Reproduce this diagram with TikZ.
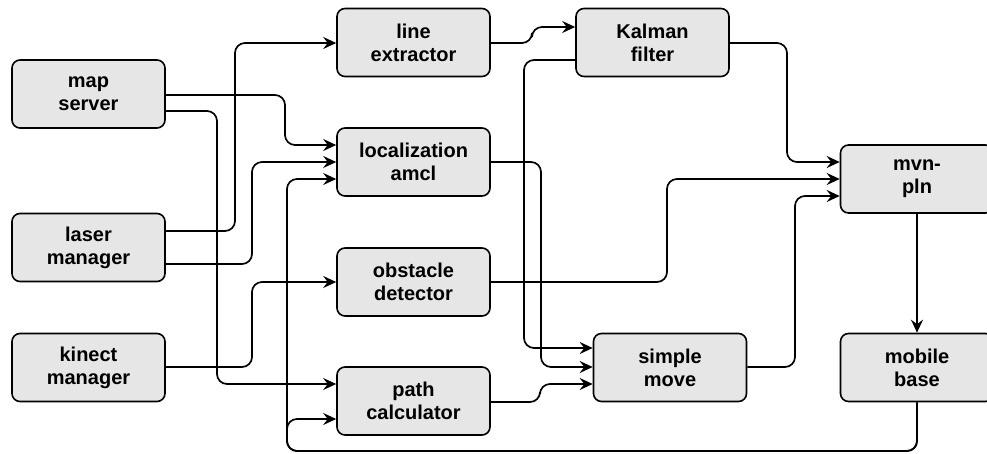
\documentclass[tikz,border=0pt]{standalone}
\usepackage{fontspec}
\setmainfont{Liberation Sans}
\usetikzlibrary{arrows.meta}
\definecolor{boxfill}{HTML}{E6E6E6}
\tikzset{
  block/.style={draw=black, fill=boxfill, line width=1.6pt, rounded corners=8pt,
    minimum width=153pt, minimum height=68pt, inner sep=0pt, align=center,
    font=\fontsize{20pt}{23pt}\selectfont\bfseries},
  conn/.style={draw=black, line width=1.7pt, rounded corners=10pt,
    -{Stealth[length=13pt, width=12pt, inset=4.5pt]}}
}
\begin{document}
\begin{tikzpicture}[x=1pt, y=-1pt]
  \useasboundingbox (0,0) rectangle (987,453);
  \clip (0,0) rectangle (987,453);

  % components
  \node[block] (map)    at (88.5,94)   {map\\server};
  \node[block] (laser)  at (88.5,247.5) {laser\\manager};
  \node[block] (kinect) at (88.5,367.5) {kinect\\manager};
  \node[block] (lineex) at (413.5,42.5) {line\\extractor};
  \node[block] (loc)    at (413.5,162)  {localization\\amcl};
  \node[block] (obst)   at (413.5,282)  {obstacle\\detector};
  \node[block] (pathc)  at (413.5,401)  {path\\calculator};
  \node[block] (kalman) at (652.5,42.5) {Kalman\\filter};
  \node[block] (simple) at (670,367.5)  {simple\\move};
  \node[block] (mvn)    at (917,179)    {mvn-\\pln};
  \node[block] (mobile) at (917,367.5)  {mobile\\base};

  % feedback from the mobile base
  \coordinate (fbA) at (917,451);
  \coordinate (fbB) at (287,451);
  \draw[conn] (mobile.south) -- (fbA) -- (fbB) -- (287,179) -- (loc.west |- 0,179);
  \draw[conn] (mobile.south) -- (fbA) -- (fbB) -- (287,419) -- (pathc.west |- 0,419);

  % map server
  \draw[conn] (map.east |- 0,95) -- (285,95) -- (285,145) -- (loc.west |- 0,145);
  \draw[conn] (map.east |- 0,111) -- (217,111) -- (217,384) -- (pathc.west |- 0,384);

  % laser manager
  \draw[conn] (laser.east |- 0,231) -- (235,231) -- (235,43) -- (lineex.west |- 0,43);
  \draw[conn] (laser.east |- 0,264) -- (252,264) -- (252,162) -- (loc.west |- 0,162);

  % kinect manager
  \draw[conn] (kinect.east |- 0,367) -- (252,367) -- (252,282) -- (obst.west |- 0,282);

  % middle column
  \draw[conn] (lineex.east |- 0,43) -- (532,43) -- (532,27) -- (kalman.west |- 0,27);
  \draw[conn] (kalman.west |- 0,60) -- (524,60) -- (524,348) -- (simple.west |- 0,348);
  \draw[conn] (loc.east |- 0,162) -- (541,162) -- (541,367) -- (simple.west |- 0,367);
  \draw[conn] (pathc.east |- 0,402) -- (540,402) -- (540,384) -- (simple.west |- 0,384);

  % into the planner
  \draw[conn] (kalman.east |- 0,43) -- (787,43) -- (787,162) -- (mvn.west |- 0,162);
  \draw[conn] (obst.east |- 0,282) -- (667,282) -- (667,179) -- (mvn.west |- 0,179);
  \draw[conn] (simple.east |- 0,367) -- (795,367) -- (795,196) -- (mvn.west |- 0,196);

  % planner to base
  \draw[conn] (mvn.south) -- (mobile.north);
\end{tikzpicture}
\end{document}
